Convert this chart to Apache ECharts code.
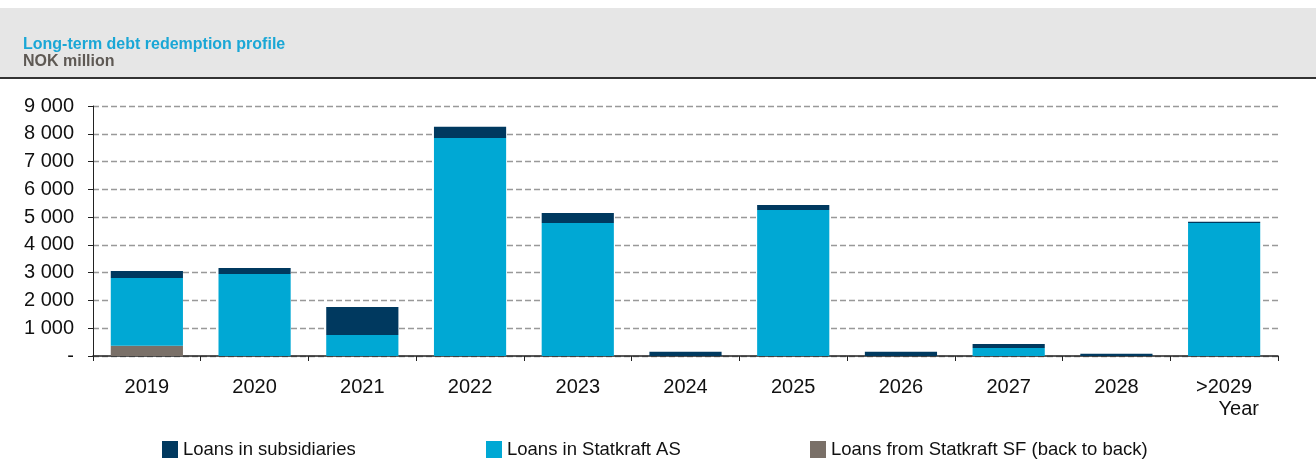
<!DOCTYPE html>
<html><head><meta charset="utf-8">
<script src="https://cdn.jsdelivr.net/npm/echarts@6/dist/echarts.min.js"></script>
<style>html,body{margin:0;padding:0;background:#fff}#c{width:1316px;height:462px}</style>
</head><body><div id="c"></div>
<script>
const categories = ['2019','2020','2021','2022','2023','2024','2025','2026','2027','2028','>2029'];
const loansSubsidiaries = [250, 220, 1010, 400, 360, 150, 180, 150, 140, 80, 40];
const loansStatkraftAS = [2440, 2950, 756, 7850, 4790, 0, 5256, 0, 290, 0, 4790];
const loansStatkraftSF = [370, 0, 0, 0, 0, 0, 0, 0, 0, 0, 0];
const yTicks = [0, 1000, 2000, 3000, 4000, 5000, 6000, 7000, 8000, 9000];

const FONT = 'Liberation Sans, Arial, sans-serif';
const C_DARK = '#00395F', C_LIGHT = '#00A8D4', C_GRAY = '#7A7068';

const chart = echarts.init(document.getElementById('c'));
function fmt(v){ if(v===0) return '-'; return String(v).replace(/\B(?=(\d{3})+(?!\d))/g,' '); }
const legendCommon = {itemWidth:16,itemHeight:17,icon:'rect',top:435,textStyle:{fontFamily:FONT,fontSize:18.5,color:'#111'},itemGap:7,selectedMode:false};
chart.setOption({
  animation:false,
  title:{text:'Long-term debt redemption profile',subtext:'NOK million',left:18,top:32,itemGap:1,
    textStyle:{fontFamily:FONT,fontSize:16,fontWeight:'bold',color:'#1AA7D6'},
    subtextStyle:{fontFamily:FONT,fontSize:16,fontWeight:'bold',color:'#5E5954'}},
  graphic:[
    {type:'rect',z:-10,shape:{x:0,y:8,width:1316,height:70},style:{fill:'#E6E6E6'}},
    {type:'rect',z:-9,shape:{x:0,y:77,width:1316,height:2},style:{fill:'#333'}},
    {type:'text',right:57,top:399,style:{text:'Year',font:'20px '+FONT,fill:'#111'}}
  ],
  legend:[
    Object.assign({left:157,data:['Loans in subsidiaries']},legendCommon),
    Object.assign({left:481,data:['Loans in Statkraft AS']},legendCommon),
    Object.assign({left:805,data:['Loans from Statkraft SF (back to back)']},legendCommon)
  ],
  grid:{left:93,right:38,top:106,bottom:106},
  xAxis:{type:'category',data:categories,
    axisLine:{lineStyle:{color:'#222',width:1.5}},
    axisTick:{show:true,length:5,lineStyle:{color:'#222'}},
    axisLabel:{fontFamily:FONT,fontSize:20,color:'#111',margin:21}},
  yAxis:{type:'value',min:0,max:9000,interval:1000,
    axisLine:{show:true,lineStyle:{color:'#222'}},
    axisTick:{show:true,length:5,lineStyle:{color:'#222'}},
    axisLabel:{fontFamily:FONT,fontSize:20,color:'#111',margin:19,formatter:fmt},
    splitLine:{lineStyle:{color:'#999',type:[6,3],width:1.3}}},
  series:[
    {name:'Loans from Statkraft SF (back to back)',type:'bar',stack:'a',data:loansStatkraftSF,itemStyle:{color:C_GRAY},barCategoryGap:'33%'},
    {name:'Loans in Statkraft AS',type:'bar',stack:'a',data:loansStatkraftAS,itemStyle:{color:C_LIGHT}},
    {name:'Loans in subsidiaries',type:'bar',stack:'a',data:loansSubsidiaries,itemStyle:{color:C_DARK}}
  ]
});
</script></body></html>
